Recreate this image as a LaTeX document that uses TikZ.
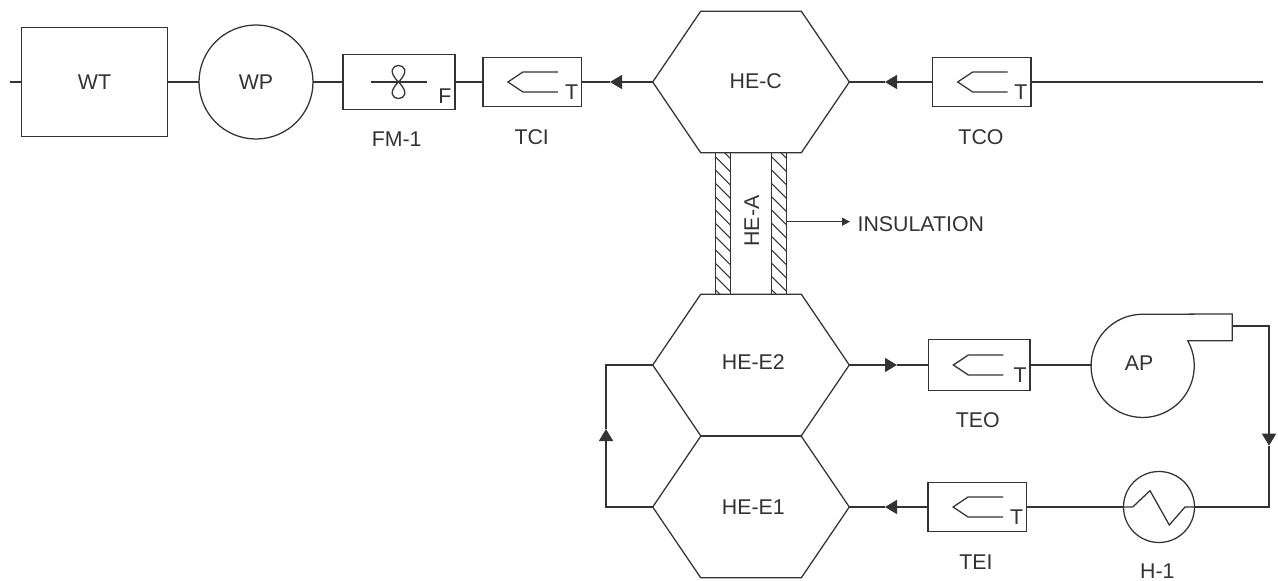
\documentclass[tikz,border=0pt]{standalone}
\usepackage{fontspec}
\setmainfont{Liberation Sans}
\usetikzlibrary{arrows.meta,calc,shapes.symbols}
\tikzset{
  flow/.style={-{Triangle[length=9pt,width=10.5pt]}},
  vessel/.style={draw,rectangle,inner sep=0pt,outer sep=0pt},
  round/.style={draw,circle,inner sep=0pt,outer sep=0pt},
  hexa/.style={draw,signal,signal to=east and west,signal pointer angle=111.7,
    inner sep=0pt,outer sep=0pt,minimum width=196.6*0.75pt,minimum height=141.6*0.75pt},
  band/.style={draw,rectangle,inner sep=0pt,outer sep=0pt,
    minimum width=14.8*0.75pt,minimum height=141.6*0.75pt}
}
% thermocouple symbol and T inside a sensor box
\newcommand{\thermo}[1]{
  \draw ($(#1.west)+(75,-10)$) -- ($(#1.west)+(40,-10)$) -- ($(#1.west)+(25,0)$)
    -- ($(#1.west)+(40,10)$) -- ($(#1.west)+(75,10)$);
  \node (#1t) at ($(#1.east)+(-10,10)$) {T};
}
% slanted hatching inside an insulation band
\newcommand{\hatch}[1]{
  \begin{scope}
    \clip (#1.south west) rectangle (#1.north east);
    \foreach \y in {-9,4.3,...,142}
      \draw[line width=0.8pt] ($(#1.north west)+(0,\y)$) -- ++(15,15);
  \end{scope}
}
\begin{document}
\begin{tikzpicture}[x=0.75pt,y=-0.75pt,line width=0.95pt,draw=black!80,text=black!80,
    font=\fontsize{16}{18}\selectfont]
    \useasboundingbox (0,0) rectangle (1278,581);

    % Water side
    \node[vessel,minimum width=146*0.75pt,minimum height=109*0.75pt] (wt) at (94.5,82) {WT};
    \node[round,minimum size=114*0.75pt] (wp) at (256,82) {WP};
    \node[vessel,minimum width=112*0.75pt,minimum height=55.5*0.75pt] (fm) at (399,82) {};
    \node[vessel,minimum width=98.7*0.75pt,minimum height=49.2*0.75pt] (tci) at (532.3,82) {};
    \node[vessel,minimum width=98.3*0.75pt,minimum height=49*0.75pt] (tco) at (981.8,82) {};
    \node[hexa] (hec) at (751,82) {};
    \node (hectext) at (755.7,81) {HE-C};
    \node (fmtext) at (396.7,139) {FM-1};
    \node (tcitext) at (531.7,136.7) {TCI};
    \node (tcotext) at (981,137) {TCO};
    \thermo{tci}
    \thermo{tco}

    % Flow meter symbol
    \coordinate (fan) at (398.5,82);
    \draw ($(fan)+(-28,0)$) -- ($(fan)+(28,0)$);
    \draw (fan) .. controls +(22,-22) and +(-22,-22) .. (fan);
    \draw (fan) .. controls +(22,22) and +(-22,22) .. (fan);
    \node (fmf) at (445,95.7) {F};

    \coordinate (wtin) at (9.5,82);
    \coordinate (waterin) at (1263,82);
    \coordinate (tcitip) at (610,82);
    \coordinate (hectip) at (885,82);
    \draw (wtin) -- (wt.west);
    \draw (wt.east) -- (wp.west);
    \draw (wp.east) -- (fm.west);
    \draw (fm.east) -- (tci.west);
    \draw[flow] (hec.west) -- (tcitip);
    \draw (tcitip) -- (tci.east);
    \draw[flow] (tco.west) -- (hectip);
    \draw (hectip) -- (hec.east);
    \draw (tco.east) -- (waterin);

    % Adiabatic section
    \node[band] (insa) at (723,223.5) {};
    \node[band] (insb) at (779.2,223.5) {};
    \hatch{insa}
    \hatch{insb}
    \node[rotate=90] (hea) at (751.7,221) {HE-A};
    \coordinate (insout) at (786.7,221.7);
    \coordinate (instip) at (850,221.7);
    \draw[-{Triangle[length=6pt,width=6pt]}] (insout) -- (instip);
    \node[anchor=west,inner sep=0pt] (instext) at (857,224) {INSULATION};

    % Air side
    \node[hexa] (hee2) at (751,365) {};
    \node[hexa] (hee1) at (751,507) {};
    \node (hee2text) at (753.3,361.7) {HE-E2};
    \node (hee1text) at (753.3,507) {HE-E1};
    \node[vessel,minimum width=101.7*0.75pt,minimum height=51.7*0.75pt] (teo) at (979.2,365) {};
    \node[vessel,minimum width=98.7*0.75pt,minimum height=49*0.75pt] (tei) at (977.4,507) {};
    \node (teotext) at (977.7,420) {TEO};
    \node (teitext) at (976,561.7) {TEI};
    \thermo{teo}
    \thermo{tei}

    % Air pump outline with outlet
    \draw (1187.7,340.7) arc[start angle=-29.2,end angle=270,radius=51.6]
      -- (1232.3,314) -- (1232.3,340.7) -- cycle;
    \node (ap) at (1139,363) {AP};
    \coordinate (apin) at (1091.7,365);
    \coordinate (apout) at (1232.3,326);

    % Heater
    \node[round,minimum size=71*0.75pt] (h1) at (1159,507) {};
    \draw (h1.west) -- (1132.7,507) -- (1150,490.7) -- (1169.3,525) -- (1185,507) -- (h1.east);
    \node (h1text) at (1157.3,570.7) {H-1};

    \coordinate (he2tip) at (897,365);
    \coordinate (he1tip) at (885,507);
    \coordinate (looptip) at (606,429);
    \coordinate (heattip) at (1269,445.7);
    \draw[flow] (hee2.east) -- (he2tip);
    \draw (he2tip) -- (teo.west);
    \draw (teo.east) -- (apin);
    \draw[flow] (apout) -| (heattip);
    \draw (heattip) |- (h1.east);
    \draw (h1.west) -- (tei.east);
    \draw[flow] (tei.west) -- (he1tip);
    \draw (he1tip) -- (hee1.east);
    \draw[flow] (hee1.west) -| (looptip);
    \draw (looptip) |- (hee2.west);
\end{tikzpicture}
\end{document}
